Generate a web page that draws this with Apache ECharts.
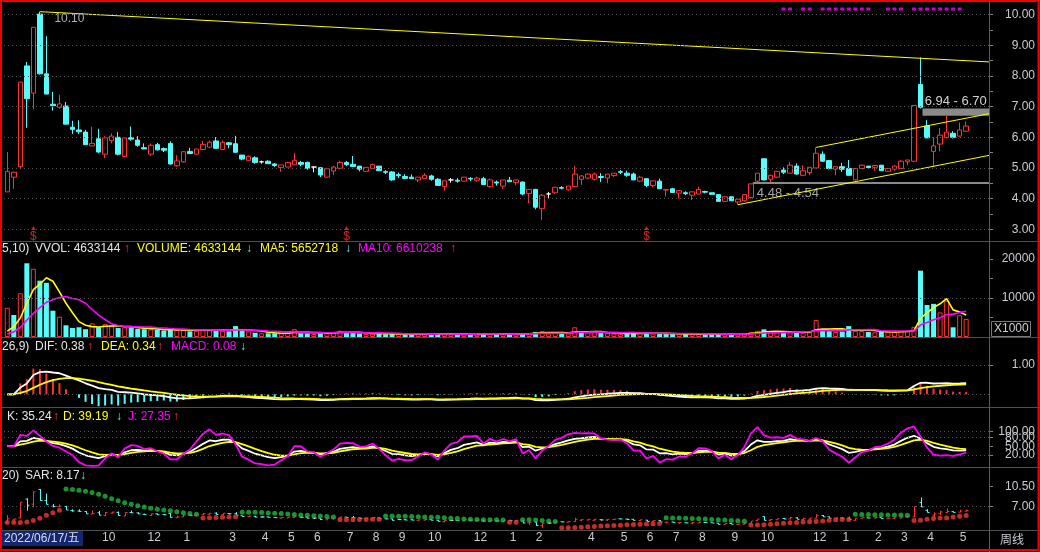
<!DOCTYPE html>
<html><head><meta charset="utf-8">
<script src="https://cdn.jsdelivr.net/npm/echarts@6/dist/echarts.min.js"></script>
<style>html,body{margin:0;padding:0;background:#000;}#c{width:1040px;height:552px;}</style>
</head><body><div id="c"></div>
<script>
// ---------------- data (weekly candles) ----------------
const opens = [4.22,4.70,5.04,8.33,7.44,10.02,8.07,7.08,6.98,7.02,
6.33,6.24,6.17,5.72,5.95,5.45,5.89,6.00,5.37,5.99,
5.91,5.66,5.45,5.76,5.63,5.80,5.07,5.20,5.54,5.45,
5.60,5.68,5.88,5.60,5.82,5.79,5.42,5.25,5.33,5.20,
5.22,5.13,5.01,5.03,5.10,5.18,5.18,5.03,5.01,4.70,
4.90,4.99,5.18,5.12,5.06,4.89,4.98,5.06,4.88,4.87,
4.78,4.72,4.70,4.61,4.65,4.74,4.63,4.39,4.61,4.60,
4.57,4.66,4.60,4.65,4.39,4.54,4.41,4.60,4.52,4.54,
4.17,4.30,3.67,4.15,4.19,4.36,4.28,4.39,4.63,4.67,
4.63,4.72,4.67,4.75,4.88,4.83,4.80,4.57,4.65,4.43,
4.57,4.28,4.32,4.18,4.19,4.11,4.15,4.23,4.19,4.13,
3.91,4.06,3.89,3.93,4.04,4.57,5.30,4.63,4.70,4.93,
4.83,5.06,4.76,4.85,5.00,5.45,5.24,4.96,5.04,4.98,
4.61,4.98,5.06,5.02,5.09,4.89,4.96,4.98,5.20,5.22,
7.72,6.37,5.54,5.78,6.00,6.13,6.04,6.20];
const highs = [5.52,4.88,7.80,8.46,9.59,10.10,9.30,7.48,7.39,7.15,
6.54,6.56,6.24,6.35,6.28,6.04,6.13,6.17,5.98,6.35,
6.04,5.80,5.80,5.82,5.67,5.87,5.42,5.55,5.66,5.62,
5.88,5.90,6.01,5.90,5.84,6.05,5.42,5.41,5.38,5.24,
5.25,5.16,5.10,5.20,5.49,5.23,5.21,5.03,5.01,4.97,
5.07,5.23,5.23,5.39,5.06,5.02,5.15,5.06,4.93,4.90,
4.85,4.80,4.79,4.70,4.83,4.78,4.67,4.58,4.67,4.67,
4.70,4.70,4.71,4.71,4.65,4.59,4.61,4.71,4.61,4.56,
4.30,4.32,4.15,4.22,4.37,4.41,4.41,5.06,4.76,4.82,
4.85,4.83,4.80,4.83,4.93,4.91,4.85,4.74,4.67,4.58,
4.65,4.30,4.35,4.26,4.24,4.24,4.39,4.26,4.19,4.15,
4.08,4.06,3.98,4.13,4.48,4.83,5.30,4.78,4.89,5.02,
5.19,5.15,5.09,5.02,5.67,5.54,5.26,5.06,5.17,5.26,
4.98,5.11,5.06,5.09,5.09,5.00,5.08,5.26,5.26,7.04,
8.61,6.56,6.00,6.30,6.70,6.20,6.48,6.52];
const lows = [4.22,4.32,4.96,6.31,6.91,8.05,7.41,6.87,6.93,6.43,
6.11,6.11,5.76,5.72,5.48,5.32,5.80,5.41,5.35,5.89,
5.69,5.61,5.39,5.57,5.52,5.11,5.04,5.17,5.45,5.45,
5.58,5.66,5.62,5.58,5.64,5.51,5.25,5.24,5.14,5.14,
5.14,5.04,4.88,5.03,5.10,5.05,4.94,4.86,4.70,4.70,
4.77,4.96,5.06,5.04,4.89,4.89,4.98,4.91,4.80,4.58,
4.67,4.66,4.65,4.54,4.65,4.58,4.43,4.26,4.52,4.52,
4.57,4.57,4.55,4.46,4.35,4.42,4.32,4.54,4.43,4.11,
3.85,3.65,3.30,4.00,4.17,4.30,4.26,4.37,4.45,4.63,
4.59,4.54,4.50,4.71,4.80,4.71,4.61,4.54,4.37,4.37,
4.32,4.07,4.19,4.00,4.11,3.95,4.15,4.17,4.13,3.91,
3.91,3.93,3.80,3.90,4.00,4.54,4.59,4.54,4.67,4.80,
4.83,4.78,4.74,4.76,5.00,5.20,4.95,4.76,4.87,4.76,
4.59,4.96,4.98,4.91,4.91,4.87,4.91,4.96,5.09,5.20,
6.94,5.98,5.04,5.54,5.96,5.96,6.02,6.17];
const closes = [4.88,4.86,7.80,7.26,9.59,8.07,7.41,7.03,7.09,6.43,
6.26,6.18,5.76,5.80,5.52,5.98,6.04,5.45,5.98,5.94,
5.74,5.62,5.74,5.59,5.58,5.13,5.23,5.53,5.47,5.62,
5.77,5.84,5.64,5.84,5.76,5.51,5.29,5.38,5.18,5.20,
5.14,5.08,5.10,5.18,5.25,5.12,4.99,5.03,4.77,4.97,
5.03,5.18,5.11,5.05,4.96,5.02,5.11,4.91,4.86,4.61,
4.75,4.66,4.65,4.70,4.76,4.63,4.43,4.58,4.61,4.57,
4.70,4.64,4.67,4.46,4.61,4.51,4.61,4.55,4.61,4.15,
4.30,3.72,4.11,4.15,4.37,4.34,4.41,4.80,4.74,4.80,
4.80,4.69,4.80,4.83,4.86,4.76,4.61,4.70,4.43,4.58,
4.32,4.30,4.20,4.26,4.16,4.22,4.30,4.21,4.14,3.91,
4.06,3.93,3.98,4.13,4.48,4.83,4.61,4.76,4.89,4.86,
5.09,4.80,4.91,5.02,5.48,5.22,4.98,5.04,4.96,4.76,
4.98,5.09,5.01,5.08,4.91,4.98,5.06,5.22,5.26,7.04,
6.98,5.98,5.72,6.07,6.17,6.00,6.24,6.37];
// volume in thousands (axis shows X1000)
const volumes = [7500,5640,11200,18900,17500,14440,13900,6740,5200,3000,
2300,2500,2000,3500,2500,3300,2800,2300,2500,2500,
2100,2000,2000,1800,1600,2100,1800,1800,1450,1600,
2000,1800,1800,1600,1450,2800,1600,1450,1100,940,
940,940,940,1100,2000,940,940,770,1100,1100,
1300,1600,1000,1100,900,800,900,800,700,900,
700,650,650,700,800,700,900,1000,700,650,
700,650,700,900,1000,700,800,700,700,900,
1000,1300,1500,900,1100,900,900,2490,1200,1100,
1300,1000,1100,900,800,900,1000,1100,1000,900,
800,900,800,700,750,700,750,800,700,650,
700,800,700,900,1300,1600,1970,1200,1200,1000,
1300,1400,1100,1200,4360,2000,1500,1300,1400,2800,
1600,1500,1300,1200,1400,1300,1300,1500,1500,2600,
17000,8200,8500,6300,9300,2490,5560,4633];

// x tick labels: [candle index, month]
const tickLabels = [[16,'10'],[23,'12'],[28,'1'],[35,'3'],[40,'4'],[44,'5'],[48,'6'],[53,'7'],[57,'8'],[61,'9'],[66,'10'],[73,'12'],[78,'1'],[82,'2'],[90,'4'],[95,'5'],[99,'6'],[103,'7'],[107,'8'],[112,'9'],[117,'10'],[125,'12'],[129,'1'],[134,'2'],[138,'3'],[142,'4'],[147,'5']];
const firstDate = '2022/06/17/五';
const periodName = '周线';
// y tick labels per panel
const priceTicks = [3,4,5,6,7,8,9,10];
const priceMinorTicks = [3,3.5,4,4.5,5,5.5,6,6.5,7,7.5,8,8.5,9,9.5,10];
const volTicks = [10000,20000];
const volMinorTicks = [5000,10000,15000,20000];
const macdTicks = [1];
const kdjTicksA = [100,50];
const kdjTicksB = [80,20];
const kdjGrid = [20,80,100];
const sarTicks = [7,10.5];
// annotations
const signalIdx = [4,52,98];
const flagIdx = [119,120,122,123,125,126,127,128,129,130,131,132,135,136,137,139,140,141,142,143,144,145,146];
const trendTop = [[5,10.10],[150.5,8.46]];
const trendLow = [[112,3.80],[150.5,5.41]];
const trendUp = [[124,5.67],[150.5,6.77]];
const gapA = {from:114.3, hi:4.54, lo:4.48, text:'4.48 - 4.54'};
const gapB = {from:140.3, hi:6.94, lo:6.70, text:'6.94 - 6.70'};
const peakIdx = 5, peakText = '10.10';
const headers = {
  vol: [['5,10)','#E6E6E6',2],['VVOL: 4633144','#E6E6E6',35],['↑','#FF3232',124],['VOLUME: 4633144','#FFFF00',137],['↓','#54FCFC',246],['MA5: 5652718','#FFFF00',260],['↓','#54FCFC',345],['MA10: 6610238','#FF00FF',358],['↑','#FF3232',450]],
  macd: [['26,9)','#E6E6E6',2],['DIF: 0.38','#E6E6E6',35],['↑','#FF3232',87],['DEA: 0.34','#FFFF00',101],['↑','#FF3232',157],['MACD: 0.08','#FF00FF',171],['↓','#54FCFC',240]],
  kdj: [['K: 35.24','#E6E6E6',7],['↑','#FF3232',53],['D: 39.19','#FFFF00',63],['↓','#54FCFC',116],['J: 27.35','#FF00FF',128],['↑','#FF3232',173]],
  sar: [['20)','#E6E6E6',2],['SAR: 8.17','#E6E6E6',25],['↓','#54FCFC',80]]
};

// ---------------- derived indicators ----------------
const n = closes.length;
const NCAT = 151;
const cats = Array.from({length:NCAT},(_,i)=>String(i));
const UP='#FF3232', DOWN='#54FCFC', DOJI='#FFFFFF', YEL='#FFFF00', MAG='#FF00FF', WHT='#FFFFFF';
const FONT = "'Liberation Sans','DejaVu Sans','Noto Sans CJK SC',sans-serif";

function maN(arr,len){return arr.map((v,i)=>{let s=0;for(let k=Math.max(0,i-len+1);k<=i;k++)s+=arr[k];return s/len;});}
function ema(arr,len){const o=[];let e=arr[0];arr.forEach((v,i)=>{e=i===0?v:(2*v+(len-1)*e)/(len+1);o.push(e);});return o;}
const ma5=maN(volumes,5), ma10=maN(volumes,10);
const e12=ema(closes,12), e26=ema(closes,26);
const dif=closes.map((_,i)=>e12[i]-e26[i]);
const dea=ema(dif,9);
const macd=dif.map((d,i)=>2*(d-dea[i]));
const K=[],D=[],J=[];{let kp=50,dp=50;for(let i=0;i<n;i++){let lo=Infinity,hi=-Infinity;for(let k=Math.max(0,i-8);k<=i;k++){lo=Math.min(lo,lows[k]);hi=Math.max(hi,highs[k]);}
const rsv=hi===lo?50:(closes[i]-lo)/(hi-lo)*100;const k=(2*kp+rsv)/3,d=(2*dp+k)/3;K.push(k);D.push(d);J.push(3*k-2*d);kp=k;dp=d;}}
const sar=[],sarUp=[];{let up=true,af=0.02,ep=highs[0],s=lows[0];sar.push(s);sarUp.push(true);
for(let i=1;i<n;i++){s=s+af*(ep-s);
 if(up){s=Math.min(s,lows[i-1],lows[Math.max(0,i-2)]);if(lows[i]<s){up=false;s=ep;ep=lows[i];af=0.02;}else if(highs[i]>ep){ep=highs[i];af=Math.min(af+0.02,0.2);}}
 else{s=Math.max(s,highs[i-1],highs[Math.max(0,i-2)]);if(highs[i]>s){up=true;s=ep;ep=highs[i];af=0.02;}else if(lows[i]<ep){ep=lows[i];af=Math.min(af+0.02,0.2);}}
 sar.push(s);sarUp.push(up);}}

const tickMap={};tickLabels.forEach(([i,t])=>tickMap[i]=t);
const dotted={color:'#555',type:[1,3],width:1};
function gridLines(levels){return {silent:true,symbol:['none','none'],label:{show:false},lineStyle:dotted,emphasis:{disabled:true},data:levels.map(v=>({yAxis:v}))};}

const axisLbl = (vals,fmt)=>({show:true,customValues:vals,formatter:fmt,color:'#C8CCD2',fontFamily:FONT,fontSize:12,align:'right',margin:46,hideOverlap:false,showMinLabel:true,showMaxLabel:true});
const tick = (vals)=>({show:true,inside:false,customValues:vals,length:4,lineStyle:{color:'#808080'}});
const yBase = {position:'right',axisLine:{show:false,onZero:false},splitLine:{show:false}};

const grids=[[0,242],[242,95],[338,69],[407,60],[467,63]].map(([t,h])=>({left:4,right:51,top:t,height:h,containLabel:false,outerBoundsMode:'none'}));

const xAxes=[0,1,2,3,4].map(gi=>({type:'category',gridIndex:gi,data:cats,boundaryGap:true,axisLine:{show:false,onZero:false},axisTick:{show:false},splitLine:{show:false},
  axisLabel: gi===4?{show:true,interval:0,formatter:(v,i)=>tickMap[i]||'',color:'#C8CCD2',fontFamily:FONT,fontSize:12,margin:2,padding:[0,6,0,0]}:{show:false}}));
xAxes.push({type:'value',gridIndex:0,min:-0.5,max:150.5,show:false,axisLine:{onZero:false}});

const yAxes=[
 Object.assign({gridIndex:0,min:2.584,max:10.48,axisLabel:axisLbl(priceTicks,v=>v.toFixed(2)),axisTick:tick(priceMinorTicks)},yBase),
 Object.assign({gridIndex:1,min:0,max:24359,axisLabel:axisLbl(volTicks,v=>String(v)),axisTick:tick(volMinorTicks)},yBase),
 Object.assign({gridIndex:2,min:-0.4334,max:1.9215,axisLabel:axisLbl(macdTicks,v=>v.toFixed(2)),axisTick:tick(macdTicks)},yBase),
 Object.assign({gridIndex:3,min:-21.3,max:184.7,axisLabel:axisLbl(kdjTicksA,v=>v.toFixed(2)),axisTick:tick(kdjTicksA)},yBase),
 Object.assign({gridIndex:4,min:2.922,max:13.948,axisLabel:axisLbl(sarTicks,v=>v.toFixed(2)),axisTick:tick(sarTicks)},yBase),
 Object.assign({gridIndex:3,min:-21.3,max:184.7,axisLabel:axisLbl(kdjTicksB,v=>v.toFixed(2)),axisTick:tick(kdjTicksB)},yBase)
];

const candleData=opens.map((o,i)=>[o,closes[i],lows[i],highs[i]]);
const volData=volumes.map((v,i)=>{const up=i===0||closes[i]>=closes[i-1];return {value:v,itemStyle:up?{color:'#000',borderColor:UP,borderWidth:1}:{color:DOWN,borderColor:DOWN,borderWidth:0}};});
const macdData=macd.map(v=>({value:v,itemStyle:{color:v>=0?UP:DOWN}}));
const lineS=(name,xi,data,color,w)=>({name,type:'line',xAxisIndex:xi,yAxisIndex:xi,data,symbol:'none',showSymbol:false,lineStyle:{color,width:w},silent:true,z:3});
const trend=(data)=>({type:'line',xAxisIndex:5,yAxisIndex:0,data,symbol:'none',lineStyle:{color:YEL,width:1},silent:true,z:4});

const series=[
 {type:'candlestick',xAxisIndex:0,yAxisIndex:0,data:candleData,barWidth:5,
  itemStyle:{color:'#000',color0:DOWN,borderColor:UP,borderColor0:DOWN,borderColorDoji:DOJI,borderWidth:1},
  markLine:gridLines(priceTicks),
  markPoint:{symbol:'circle',symbolSize:1,itemStyle:{color:'rgba(0,0,0,0)'},silent:true,
    data:[{coord:[String(peakIdx),highs[peakIdx]],value:peakText}],
    label:{show:true,position:'right',distance:0,offset:[14,7],formatter:peakText,color:'#AEB0BE',fontFamily:FONT,fontSize:12}}},
 trend(trendTop),
 Object.assign(trend(trendLow),{markArea:{silent:true,itemStyle:{color:'#8A8A8A'},data:[
   [{coord:[gapA.from,gapA.hi],label:{show:true,position:[4,5],formatter:gapA.text,color:'#A4A4A4',fontSize:13,fontFamily:FONT}},{coord:[150.5,gapA.lo]}],
   [{coord:[gapB.from,gapB.hi],label:{show:true,position:'top',distance:1,formatter:gapB.text,color:'#D2D2D2',fontSize:13,fontFamily:FONT}},{coord:[150.5,gapB.lo]}]
 ]}}),
 trend(trendUp),
 {type:'scatter',xAxisIndex:0,yAxisIndex:0,symbolSize:1,itemStyle:{color:'rgba(0,0,0,0)'},silent:true,
  data:signalIdx.map(i=>[String(i),2.845]),
  label:{show:true,position:'inside',formatter:'{a|▲}\n{b|$}',rich:{a:{fontSize:7,lineHeight:6,color:UP,align:'center'},b:{fontSize:12,lineHeight:11,color:UP,fontFamily:FONT,align:'center'}}}},
 {type:'scatter',xAxisIndex:0,yAxisIndex:0,symbol:'rect',symbolSize:[4,3],itemStyle:{color:MAG},silent:true,data:flagIdx.map(i=>[String(i),10.186])},
 {type:'bar',xAxisIndex:1,yAxisIndex:1,data:volData,barWidth:5,silent:true,markLine:gridLines([10000])},
 lineS('MA5',1,ma5,YEL,1.6), lineS('MA10',1,ma10,MAG,1.6),
 {type:'bar',xAxisIndex:2,yAxisIndex:2,data:macdData,barWidth:2,silent:true,markLine:gridLines([0,1])},
 lineS('DIF',2,dif,WHT,1.8), lineS('DEA',2,dea,YEL,1.8),
 Object.assign(lineS('K',3,K,WHT,1.8),{markLine:gridLines(kdjGrid)}), lineS('D',3,D,YEL,1.8), lineS('J',3,J,MAG,1.8),
 {type:'custom',xAxisIndex:4,yAxisIndex:4,clip:false,silent:true,markLine:gridLines([7]),
  data:opens.map((o,i)=>[i,o,closes[i],lows[i],highs[i]]),
  renderItem:(p,api)=>{const i=api.value(0),o=api.value(1),c=api.value(2);
    const x=Math.round(api.coord([i,o])[0])+0.5;
    const yo=api.coord([i,o])[1],yc=api.coord([i,c])[1],yl=api.coord([i,api.value(3)])[1],yh=api.coord([i,api.value(4)])[1];
    const col=c>o?UP:(c<o?DOWN:DOJI);
    return {type:'group',children:[
      {type:'line',shape:{x1:x,y1:yh,x2:x,y2:yl},style:{stroke:col,lineWidth:1}},
      {type:'line',shape:{x1:x-2,y1:yo,x2:x,y2:yo},style:{stroke:col,lineWidth:1}},
      {type:'line',shape:{x1:x,y1:yc,x2:x+2,y2:yc},style:{stroke:col,lineWidth:1}}]};}},
 {type:'scatter',xAxisIndex:4,yAxisIndex:4,symbolSize:5,silent:true,z:5,data:sar.map((v,i)=>[i,v]),
  itemStyle:{color:p=>sarUp[p.dataIndex]?'#F0392E':'#1DB93C'}}
];

// ---------------- decorations ----------------
const graphic=[];
[241.5,337.5,407.5,467.5,530.5].forEach(y=>graphic.push({type:'line',shape:{x1:0,y1:y,x2:1040,y2:y},style:{stroke:'#4E4E4E',lineWidth:1},z:1}));
graphic.push({type:'line',shape:{x1:989.5,y1:0,x2:989.5,y2:552},style:{stroke:'#5A5A5A',lineWidth:1},z:1});
graphic.push({type:'rect',shape:{x:991.5,y:321.5,width:39,height:15},style:{stroke:'#7A7A7A',fill:'#000',lineWidth:1},z:10});
graphic.push({type:'text',x:994,y:329,style:{text:'X1000',fill:'#C8CCD2',fontSize:12,fontFamily:FONT,verticalAlign:'middle'},z:11});
graphic.push({type:'rect',shape:{x:2,y:531,width:81,height:15},style:{fill:'#13276F'},z:10});
graphic.push({type:'text',x:4,y:538.5,style:{text:firstDate,fill:'#D8DCF0',fontSize:12,fontFamily:FONT,verticalAlign:'middle'},z:11});
graphic.push({type:'text',x:1000,y:539,style:{text:periodName,fill:'#C8CCD2',fontSize:12,fontFamily:"'Noto Sans CJK SC',sans-serif",verticalAlign:'middle'},z:11});
const hy={vol:249,macd:347,kdj:416.5,sar:476};
Object.keys(headers).forEach(k=>headers[k].forEach(([t,c,x])=>graphic.push({type:'text',x,y:hy[k],style:{text:t,fill:c,fontSize:12,fontFamily:FONT,verticalAlign:'middle'},z:12})));
graphic.push({type:'rect',shape:{x:1,y:1,width:1037.5,height:549},style:{stroke:'#F00000',fill:null,lineWidth:2},z:20});

const chart=echarts.init(document.getElementById('c'),null,{renderer:'canvas'});
chart.setOption({backgroundColor:'#000',animation:false,textStyle:{fontFamily:FONT},grid:grids,xAxis:xAxes,yAxis:yAxes,series,graphic});
</script></body></html>
